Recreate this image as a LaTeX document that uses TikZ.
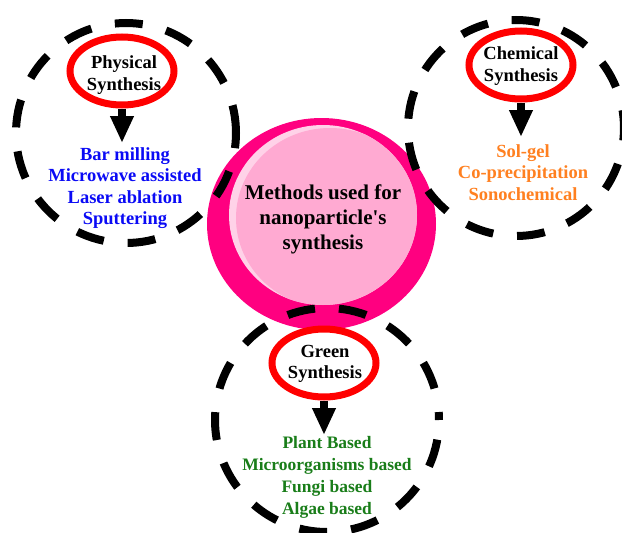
\documentclass[tikz,border=0pt]{standalone}
\usepackage{fontspec}
\setmainfont{Liberation Serif}
\usetikzlibrary{arrows.meta,shapes,positioning,backgrounds}
\definecolor{ringpink}{RGB}{255,0,128}
\definecolor{bubblepink}{RGB}{255,170,210}
\definecolor{shinepink}{RGB}{255,210,232}
\definecolor{physblue}{RGB}{10,10,245}
\definecolor{chemorange}{RGB}{255,128,32}
\definecolor{greenlist}{RGB}{25,125,25}

\begin{document}
\begin{tikzpicture}[x=1pt,y=-1pt,
    redring/.style={draw=red,line width=7pt,fill=white,ellipse,minimum width=104pt,minimum height=68pt,inner sep=0pt},
    headtxt/.style={align=center,font=\bfseries\fontsize{18.5}{21.5}\selectfont,inner sep=0pt},
    listtxt/.style={align=center,font=\bfseries\fontsize{18.5}{21.5}\selectfont,inner sep=0pt,anchor=north},
    dashring/.style={draw=black,line width=8pt,dash pattern=on 28pt off 24pt},
    downarrow/.style={line width=8pt,-{Triangle[length=27pt,width=22pt]}}]
        \useasboundingbox (0,0) rectangle (622,533);

        % Central bubble
        \fill[ringpink] (321.5,224) ellipse [x radius=114.5pt,y radius=106pt];
        \fill[shinepink] (323,215) ellipse [x radius=94pt,y radius=90pt];
        \begin{scope}
            \clip (323,215) ellipse [x radius=94pt,y radius=90pt];
            \fill[bubblepink] (330,218) ellipse [x radius=94pt,y radius=90pt];
        \end{scope}
        \node[headtxt,font=\bfseries\fontsize{21}{25}\selectfont] (methods) at (323,219) {Methods used for\\nanoparticle\textquotesingle s\\synthesis};

        % Dashed groups
        \draw[dashring] (126,133) circle [radius=110pt];
        \draw[dashring,dash phase=10pt] (516,128) circle [radius=108pt];
        \draw[dashring,dash phase=20pt] (327,420) circle [radius=112pt];

        % Physical synthesis
        \node[redring] (phys) at (122,71) {};
        \node[headtxt] (physlbl) at (124,75) {Physical\\Synthesis};
        \node[listtxt,text=physblue] (physlist) at (125,147) {Bar milling\\Microwave assisted\\Laser ablation\\Sputtering};

        % Chemical synthesis
        \node[redring] (chem) at (521,65) {};
        \node[headtxt] (chemlbl) at (521,66) {Chemical\\Synthesis};
        \node[listtxt,text=chemorange] (chemlist) at (523,144) {Sol-gel\\Co-precipitation\\Sonochemical};

        % Green synthesis
        \node[redring] (green) at (324,363) {};
        \node[headtxt] (greenlbl) at (325,364) {Green\\Synthesis};
        \node[listtxt,text=greenlist,font=\bfseries\fontsize{17.5}{22}\selectfont] (greenlist) at (327,436) {Plant Based\\Microorganisms based\\Fungi based\\Algae based};

        % Arrows
        \begin{scope}[on background layer]
            \draw[downarrow] (phys.south) -- ([yshift=4pt]phys.south |- physlist.north);
            \draw[downarrow] (chem.south) -- ([yshift=7pt]chem.south |- chemlist.north);
            \draw[downarrow] (green.south) -- ([yshift=1pt]green.south |- greenlist.north);
        \end{scope}
    \end{tikzpicture}
\end{document}
